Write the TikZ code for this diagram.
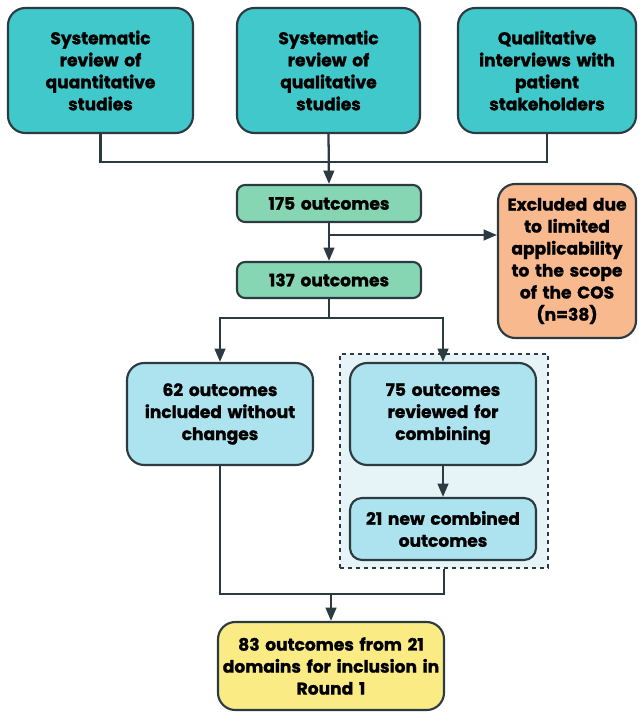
\documentclass[tikz,border=0pt]{standalone}
\usepackage{fontspec}
\setmainfont{Poppins}[BoldFont={Poppins Bold}, BoldFeatures={FakeBold=1.3}]
\usetikzlibrary{arrows.meta}
\definecolor{teal1}{HTML}{40C8CB}
\definecolor{green1}{HTML}{86D6B4}
\definecolor{orange1}{HTML}{F9B98F}
\definecolor{blue1}{HTML}{ACE3EE}
\definecolor{grpfill}{HTML}{E6F4F8}
\definecolor{yellow1}{HTML}{FAEB84}
\definecolor{edge}{HTML}{2C3A42}
\tikzset{
  px/.style={x=0.75pt,y=-0.75pt},
  box/.style={draw=edge, line width=1.6pt, rounded corners=13pt, align=center,
    font=\bfseries\fontsize{12.8}{16.5}\selectfont, inner sep=0pt, text=black},
  conn/.style={draw=edge, line width=1.7pt},
  arr/.style={conn, -{Triangle[length=10pt,width=8pt]}},
}
\begin{document}
\begin{tikzpicture}[px]
\useasboundingbox (0,0) rectangle (638,712);
\node[box, fill=teal1, minimum width=138.75pt, minimum height=93.75pt, text width=130pt] (A) at (100.5,70.5) {Systematic\\review of\\quantitative\\studies};
\node[box, fill=teal1, minimum width=137.25pt, minimum height=93.75pt, text width=130pt] (B) at (328.5,70.5) {Systematic\\review of\\qualitative\\studies};
\node[box, fill=teal1, minimum width=133.5pt, minimum height=93.75pt, text width=128pt] (C) at (547,70.5) {Qualitative\\interviews with\\patient\\stakeholders};
\node[box, fill=green1, rounded corners=6pt, minimum width=138pt, minimum height=27.75pt, text width=130pt] (n175) at (329,203.5) {175 outcomes};
\node[box, fill=orange1, minimum width=103.5pt, minimum height=115.5pt, text width=100pt] (excl) at (567,261) {Excluded due\\to limited\\applicability\\to the scope\\of the COS\\(n=38)};
\node[box, fill=green1, rounded corners=6pt, minimum width=138pt, minimum height=27pt, text width=130pt] (n137) at (329,280) {137 outcomes};
\node[draw=edge, dashed, line width=1.1pt, fill=grpfill, minimum width=156pt, minimum height=160.5pt, inner sep=0pt] (grp) at (444,461) {};
\node[box, fill=blue1, minimum width=139.5pt, minimum height=76.5pt, text width=136pt] (n62) at (220,414) {62 outcomes\\included without\\changes};
\node[box, fill=blue1, minimum width=139.5pt, minimum height=76.5pt, text width=136pt] (n75) at (443,414) {75 outcomes\\reviewed for\\combining};
\node[box, fill=blue1, rounded corners=9pt, minimum width=139.5pt, minimum height=46.5pt, text width=136pt] (n21) at (443,529) {21 new combined\\outcomes};
\node[box, fill=yellow1, minimum width=169.5pt, minimum height=66pt, text width=169pt] (n83) at (331,666) {83 outcomes from 21\\domains for inclusion in\\Round 1};
\coordinate (j) at (329,162);
\coordinate (k) at (329,235);
\coordinate (s) at (329,318);
\coordinate (m) at (331,594);
\draw[conn] (A.south) |- (j);
\draw[conn] (C.south) |- (j);
\draw[arr] (B.south) -- (n175.north);
\draw[arr] (n175.south) -- (n137.north);
\draw[arr] (k) -- (k -| excl.west);
\draw[conn] (n137.south) -- (s);
\draw[arr] (s) -| (n62.north);
\draw[arr] (s) -| (n75.north);
\draw[arr] (n75.south) -- (n21.north);
\draw[conn] (n62.south) |- (m);
\draw[conn] (grp.south) |- (m);
\draw[arr] (m) -- (n83.north);
\end{tikzpicture}
\end{document}
